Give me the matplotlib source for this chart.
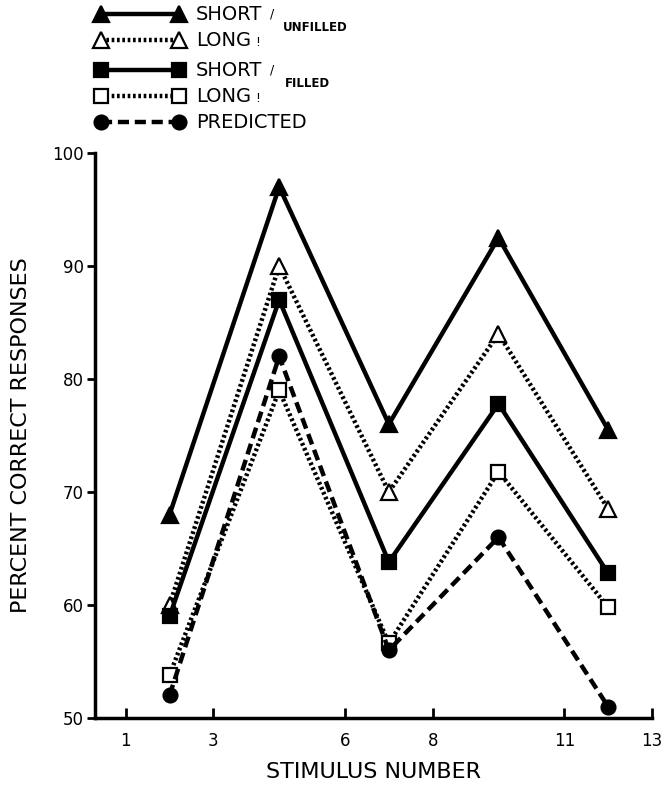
import matplotlib
matplotlib.use('Agg')
import matplotlib.pyplot as plt

plt.rcParams['font.family'] = ['DejaVu Sans']

# data
stimulus = [2, 4.5, 7, 9.5, 12]
short_unfilled = [68, 97, 76, 92.5, 75.5]
long_unfilled = [60, 90, 70, 84, 68.5]
short_filled = [59, 87, 63.8, 77.8, 62.8]
long_filled = [53.8, 79, 56.6, 71.8, 59.8]
predicted = [52, 82, 56, 66, 51]

x_ticks = [1, 3, 6, 8, 11, 13]
y_ticks = [50, 60, 70, 80, 90, 100]

W, H = 667, 788
fig = plt.figure(figsize=(W / 100, H / 100), dpi=100)
fig.patch.set_facecolor('white')

# axes box in pixels: left 95, right 652, top 153, bottom 718
ax = fig.add_axes([95 / W, 1 - 718 / H, (652 - 95) / W, (718 - 153) / H])

styles = [
    (short_unfilled, '-', '^', 'black', 11),
    (long_unfilled, (0, (0.6, 0.6)), '^', 'white', 11),
    (short_filled, '-', 's', 'black', 10),
    (long_filled, (0, (0.6, 0.6)), 's', 'white', 10),
    (predicted, (0, (2.5, 1.3)), 'o', 'black', 10),
]
for vals, ls, mk, fc, ms in styles:
    ax.plot(stimulus, vals, color='black', linestyle=ls, linewidth=3.2,
            marker=mk, markersize=ms, markerfacecolor=fc,
            markeredgecolor='black', markeredgewidth=1.6, zorder=3)

ax.set_xlim(0.3, 13)
ax.set_ylim(50, 100)
ax.set_xticks(x_ticks)
ax.set_yticks(y_ticks)
for s in ['top', 'right']:
    ax.spines[s].set_visible(False)
for s in ['left', 'bottom']:
    ax.spines[s].set_linewidth(2.5)
ax.tick_params(axis='x', direction='in', length=7, width=2, labelsize=12, pad=10)
ax.tick_params(axis='y', direction='out', length=6, width=2, labelsize=12, pad=2)
ax.set_xlabel('STIMULUS NUMBER', fontsize=16, labelpad=9)
ax.set_ylabel('PERCENT CORRECT RESPONSES', fontsize=16, labelpad=15)

# legend drawn in pixel space
lg = fig.add_axes([0, 0, 1, 1])
lg.set_xlim(0, W)
lg.set_ylim(H, 0)
lg.axis('off')
rows = [14, 40, 70, 96, 122]
names = ['SHORT', 'LONG', 'SHORT', 'LONG', 'PREDICTED']
for (vals, ls, mk, fc, ms), y, name in zip(styles, rows, names):
    lg.plot([101, 179], [y, y], color='black', linestyle=ls, linewidth=3.2,
            marker=mk, markersize=ms, markerfacecolor=fc,
            markeredgecolor='black', markeredgewidth=1.6)
    lg.text(196, y, name, fontsize=14, va='center', ha='left')
lg.text(270, 14, '/', fontsize=9, va='center', ha='left')
lg.text(255, 42, '!', fontsize=9, va='center', ha='left')
lg.text(270, 70, '/', fontsize=9, va='center', ha='left')
lg.text(255, 98, '!', fontsize=9, va='center', ha='left')
lg.text(283, 27, 'UNFILLED', fontsize=8.5, fontweight='bold', va='center', ha='left')
lg.text(285, 83, 'FILLED', fontsize=8.5, fontweight='bold', va='center', ha='left')

fig.savefig('out.png', dpi=100, facecolor='white')
